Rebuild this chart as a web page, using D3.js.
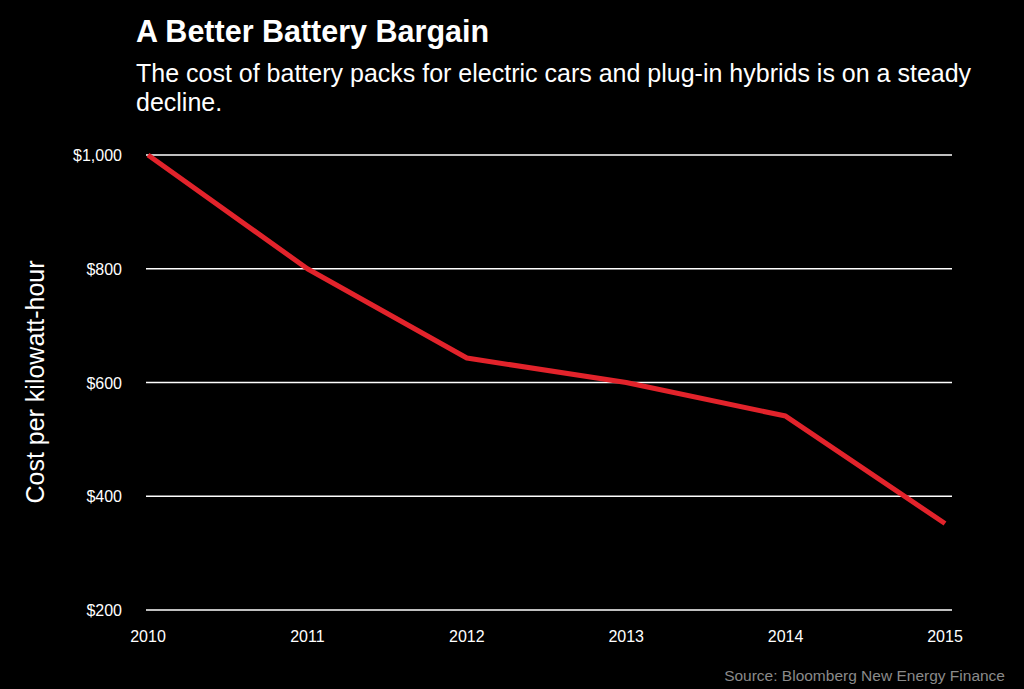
<!DOCTYPE html>
<html><head><meta charset="utf-8">
<script src="https://cdn.jsdelivr.net/npm/d3@7"></script>
<style>body{margin:0;background:#000}svg{display:block;font-family:"Liberation Sans",Arial,sans-serif}</style>
</head><body><svg id="chart" width="1024" height="689"></svg>
<script>
var years = [2010, 2011, 2012, 2013, 2014, 2015];
var cost = [1000, 800, 643, 600, 541, 352];
var yTicks = [200, 400, 600, 800, 1000];

var svg = d3.select("#chart");
svg.append("rect").attr("width", 1024).attr("height", 689).attr("fill", "#000");

var x = d3.scaleLinear().domain([2010, 2015]).range([148, 945]);
var y = d3.scaleLinear().domain([200, 1000]).range([610, 155]);

svg.append("text").attr("x", 136).attr("y", 42).attr("fill", "#fff")
  .attr("font-size", 30.5).attr("font-weight", "bold").text("A Better Battery Bargain");
svg.append("text").attr("x", 136).attr("y", 82).attr("fill", "#fff").attr("font-size", 25)
  .text("The cost of battery packs for electric cars and plug-in hybrids is on a steady");
svg.append("text").attr("x", 136).attr("y", 111).attr("fill", "#fff").attr("font-size", 25)
  .text("decline.");

var grid = svg.append("g");
grid.selectAll("line").data(yTicks).enter().append("line")
  .attr("x1", 146).attr("x2", 952)
  .attr("y1", function(d){ return y(d); }).attr("y2", function(d){ return y(d); })
  .attr("stroke", "#fff").attr("stroke-width", 1.5);
grid.selectAll("text").data(yTicks).enter().append("text")
  .attr("x", 122).attr("y", function(d){ return y(d) + 6; })
  .attr("text-anchor", "end").attr("fill", "#fff").attr("font-size", 16)
  .text(function(d){ return "$" + d3.format(",")(d); });

svg.append("g").selectAll("text").data(years).enter().append("text")
  .attr("x", function(d){ return x(d); }).attr("y", 642)
  .attr("text-anchor", "middle").attr("fill", "#fff").attr("font-size", 16)
  .text(function(d){ return d; });

svg.append("text").attr("transform", "translate(44,382) rotate(-90)")
  .attr("text-anchor", "middle").attr("fill", "#fff").attr("font-size", 25)
  .text("Cost per kilowatt-hour");

var line = d3.line().x(function(d, i){ return x(years[i]); }).y(function(d){ return y(d); });
svg.append("path").datum(cost).attr("d", line).attr("fill", "none")
  .attr("stroke", "#e2232b").attr("stroke-width", 5).attr("stroke-linejoin", "round");

svg.append("text").attr("x", 1005).attr("y", 681).attr("text-anchor", "end")
  .attr("fill", "#8a8a8a").attr("font-size", 15.5).text("Source: Bloomberg New Energy Finance");
</script></body></html>
